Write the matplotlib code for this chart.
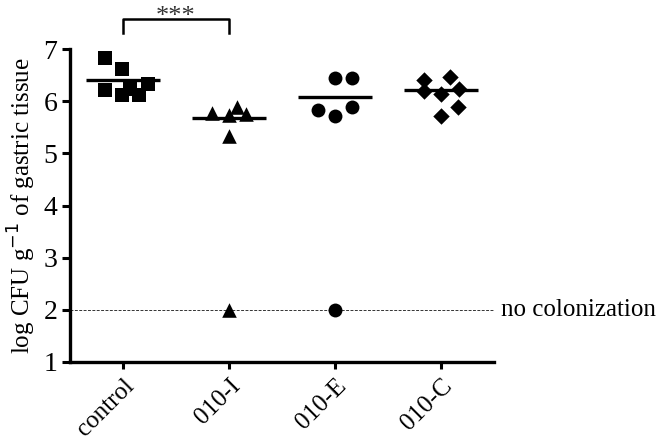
import matplotlib
matplotlib.use("Agg")
from matplotlib import pyplot as plt

plt.rcParams["font.family"] = ["Liberation Serif", "DejaVu Serif"]

groups = ["control", "010-I", "010-E", "010-C"]
markers = ["s", "^", "o", "D"]

control = [6.82, 6.61, 6.21, 6.11, 6.23, 6.11, 6.33]
i010 = [5.77, 5.74, 5.89, 5.75, 5.34, 2.0]
e010 = [6.44, 6.44, 5.83, 5.72, 5.88, 2.0]
c010 = [6.41, 6.20, 6.13, 6.46, 6.23, 5.72, 5.88]
values = [control, i010, e010, c010]

# horizontal lines drawn through each group
centers = [6.41, 5.68, 6.09, 6.21]

# horizontal scatter of points inside each column
jitter = [
    [-0.17, -0.01, -0.17, -0.01, 0.07, 0.15, 0.24],
    [-0.16, 0.0, 0.08, 0.165, 0.0, 0.0],
    [0.0, 0.16, -0.16, 0.0, 0.16, 0.0],
    [-0.165, -0.165, 0.0, 0.08, 0.165, 0.0, 0.16],
]

detect_limit = 2

fig = plt.figure(figsize=(6.57, 4.42), dpi=100)
ax = fig.add_axes([0.1065, 0.181, 0.6455, 0.708])

ax.axhline(detect_limit, color="#333333", lw=0.7, ls=(0, (3, 1.5)), zorder=1)
ax.text(4.57, detect_limit, "no colonization", fontsize=18, va="center", ha="left")

sizes = {"s": 95, "^": 110, "o": 100, "D": 70}
for k, (vals, off) in enumerate(zip(values, jitter)):
    pos = k + 1
    xs = [pos + o for o in off]
    ax.scatter(xs, vals, marker=markers[k], s=sizes[markers[k]], color="black",
               lw=0, zorder=3)
    ax.plot([pos - 0.35, pos + 0.35], [centers[k], centers[k]], color="black",
            lw=2.4, solid_capstyle="butt", zorder=2)

# significance bracket
ax.plot([1, 1, 2, 2], [7.31, 7.575, 7.575, 7.31], color="black", lw=1.8,
        clip_on=False)
ax.text(1.5, 7.5, "***", ha="center", va="baseline", fontsize=19, color="#333333",
        clip_on=False)

ax.set_xlim(0.5, 4.5)
ax.set_ylim(1, 7)
ax.set_xticks(range(1, len(groups) + 1))
ax.set_xticklabels(groups, rotation=45, ha="right", rotation_mode="anchor",
                   fontsize=18)
ax.set_yticks(range(1, 8))
ax.tick_params(axis="y", labelsize=20, width=2.2, length=6, pad=3)
ax.tick_params(axis="x", width=2.2, length=5, pad=4)
ax.set_ylabel("log CFU g$^{-1}$ of gastric tissue", fontsize=18, labelpad=4)

for side in ["top", "right"]:
    ax.spines[side].set_visible(False)
for side in ["left", "bottom"]:
    ax.spines[side].set_linewidth(2.4)

fig.savefig("out.png", dpi=100)
